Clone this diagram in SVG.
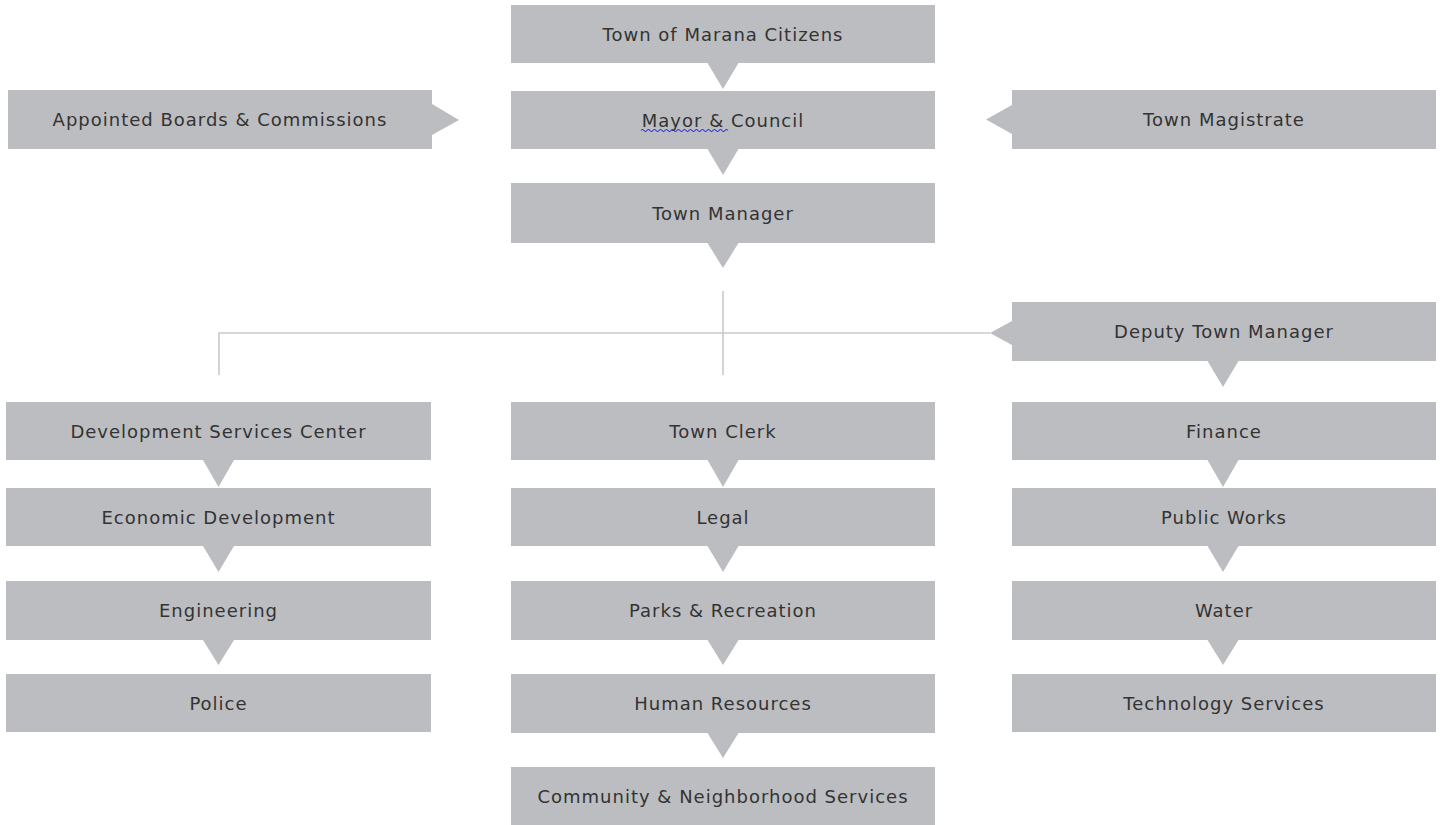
<svg xmlns="http://www.w3.org/2000/svg" width="1446" height="825" viewBox="0 0 1446 825">
<style>
.box{fill:#bcbdc0}
.t{font-family:"DejaVu Sans","Liberation Sans",sans-serif;font-size:18px;fill:#333333;text-anchor:middle;dominant-baseline:central;letter-spacing:1px}
.con{fill:none;stroke:#c8c9cb;stroke-width:1.6}
</style>
<rect width="1446" height="825" fill="#ffffff"/>
<g id="connectors">
<path class="con" d="M723 291 V375"/>
<path class="con" d="M219 375 V333 H990"/>
</g>
<g id="citizens"><path class="box" d="M511 5H935V63H738.5L723 89L707.5 63H511Z"/><text class="t" x="723" y="34">Town of Marana Citizens</text></g>
<g id="mayor"><path class="box" d="M511 91H935V149H738.5L723 175L707.5 149H511Z"/><text class="t" x="723" y="120">Mayor &amp; Council</text><path d="M641 130.5 q1.5 -2 3 0 t3 0 t3 0 t3 0 t3 0 t3 0 t3 0 t3 0 t3 0 t3 0 t3 0 t3 0 t3 0 t3 0 t3 0 t3 0 t3 0 t3 0 t3 0 t3 0 t3 0 t3 0 t3 0 t3 0 t3 0 t3 0 t3 0 t3 0 t3 0" fill="none" stroke="#3344dd" stroke-width="1.2"/></g>
<g id="manager"><path class="box" d="M511 183H935V243H738.5L723 268L707.5 243H511Z"/><text class="t" x="723" y="213">Town Manager</text></g>
<g id="boards"><path class="box" d="M8 90H432V104L459 120L432 135V149H8Z"/><text class="t" x="220" y="119.5">Appointed Boards &amp; Commissions</text></g>
<g id="magistrate"><path class="box" d="M1012 90H1436V149H1012V134L986 119.5L1012 105Z"/><text class="t" x="1224" y="119.5">Town Magistrate</text></g>
<g id="deputy"><path class="box" d="M1012 302H1436V361H1238.5L1223 387L1207.5 361H1012V345L990 333L1012 321Z"/><text class="t" x="1224" y="331.5">Deputy Town Manager</text></g>
<g id="dsc"><path class="box" d="M6 402H431V460H234L218.5 487L203 460H6Z"/><text class="t" x="218.5" y="431">Development Services Center</text></g>
<g id="econ"><path class="box" d="M6 488H431V546H234L218.5 572L203 546H6Z"/><text class="t" x="218.5" y="517">Economic Development</text></g>
<g id="eng"><path class="box" d="M6 581H431V640H234L218.5 665L203 640H6Z"/><text class="t" x="218.5" y="610">Engineering</text></g>
<g id="police"><path class="box" d="M6 674H431V732H6Z"/><text class="t" x="218.5" y="703">Police</text></g>
<g id="clerk"><path class="box" d="M511 402H935V460H738.5L723 487L707.5 460H511Z"/><text class="t" x="723" y="431">Town Clerk</text></g>
<g id="legal"><path class="box" d="M511 488H935V546H738.5L723 572L707.5 546H511Z"/><text class="t" x="723" y="517">Legal</text></g>
<g id="parks"><path class="box" d="M511 581H935V640H738.5L723 665L707.5 640H511Z"/><text class="t" x="723" y="610">Parks &amp; Recreation</text></g>
<g id="hr"><path class="box" d="M511 674H935V733H738.5L723 758L707.5 733H511Z"/><text class="t" x="723" y="703.5">Human Resources</text></g>
<g id="community"><path class="box" d="M511 767H935V825H511Z"/><text class="t" x="723" y="796">Community &amp; Neighborhood Services</text></g>
<g id="finance"><path class="box" d="M1012 402H1436V460H1238.5L1223 487L1207.5 460H1012Z"/><text class="t" x="1224" y="431">Finance</text></g>
<g id="publicworks"><path class="box" d="M1012 488H1436V546H1238.5L1223 572L1207.5 546H1012Z"/><text class="t" x="1224" y="517">Public Works</text></g>
<g id="water"><path class="box" d="M1012 581H1436V640H1238.5L1223 665L1207.5 640H1012Z"/><text class="t" x="1224" y="610">Water</text></g>
<g id="tech"><path class="box" d="M1012 674H1436V732H1012Z"/><text class="t" x="1224" y="703">Technology Services</text></g>
</svg>
